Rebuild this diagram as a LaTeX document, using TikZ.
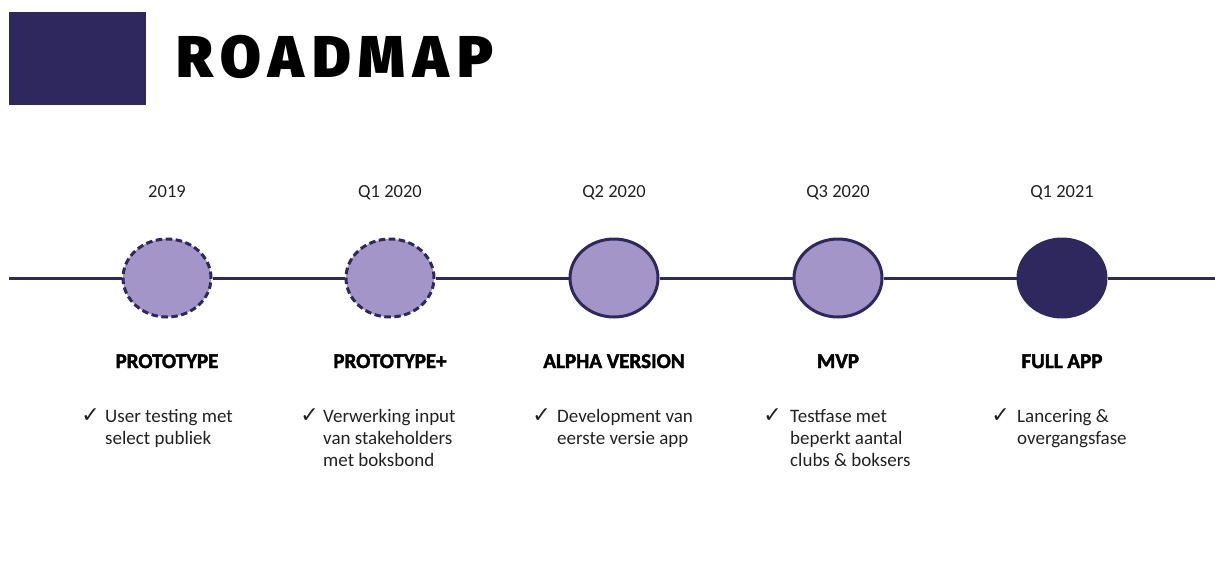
\documentclass[tikz,border=0pt]{standalone}
\usepackage{fontspec}
\usetikzlibrary{shapes.geometric}
\setmainfont{Carlito}
\newfontfamily\checkfont{DejaVu Sans}
\IfFontExistsTF{Fira Sans Black}{%
  \newfontfamily\titlefont{Fira Sans Black}[LetterSpace=14]%
}{%
  \newfontfamily\titlefont{Fira Sans}[UprightFont=* Bold,LetterSpace=14,FakeBold=4]%
}
\newfontfamily\headfont{Carlito}[UprightFont=* Bold,FakeBold=2]
\newfontfamily\checkbold{DejaVu Sans}[UprightFont=* Bold]
\definecolor{navy}{RGB}{46,40,94}
\definecolor{lilac}{RGB}{164,149,200}
\definecolor{txt}{RGB}{34,34,34}
\tikzset{
  milestone/.style={ellipse,minimum width=88pt,minimum height=78pt,inner sep=0pt,fill=lilac,draw=navy,line width=3pt},
  planned/.style={milestone,dash pattern=on 6.5pt off 3.5pt},
  done/.style={milestone},
  final/.style={milestone,fill=navy,draw=navy},
  yearlbl/.style={anchor=base,inner sep=0pt,font=\fontsize{18.5}{20}\selectfont,text=txt},
  headlbl/.style={anchor=base,inner sep=0pt,font=\headfont\fontsize{21}{24}\selectfont,text=black},
  bodylbl/.style={anchor=base west,inner sep=0pt,text=txt},
  checklbl/.style={anchor=base east,inner sep=0pt,font=\checkbold\fontsize{22}{22}\selectfont,text=txt},
  timeline/.style={draw=navy,line width=3pt}
}
\newcommand{\bodytext}[1]{\parbox[t]{170pt}{\raggedright\fontsize{19}{22}\selectfont #1}}
\begin{document}
\begin{tikzpicture}[x=1pt,y=-1pt]
\useasboundingbox[fill=white] (0,0) rectangle (1215,570);
% title
\node[fill=navy,minimum width=137pt,minimum height=93pt,inner sep=0pt,anchor=north west] (titlebox) at (9,12) {};
\node[anchor=base west,inner sep=0pt,font=\titlefont\fontsize{59}{60}\selectfont,text=black] (title) at (176,77) {ROADMAP};
% milestones
\node[planned] (c1) at (167,278) {};
\node[planned] (c2) at (390,278) {};
\node[done] (c3) at (614,278) {};
\node[done] (c4) at (838,278) {};
\node[final] (c5) at (1062,278) {};
\coordinate (start) at (9,278);
\coordinate (end) at (1215,278);
\draw[timeline] (start) -- (c1.west);
\draw[timeline] (c1.east) -- (c2.west);
\draw[timeline] (c2.east) -- (c3.west);
\draw[timeline] (c3.east) -- (c4.west);
\draw[timeline] (c4.east) -- (c5.west);
\draw[timeline] (c5.east) -- (end);
% years
\node[yearlbl] (y1) at (167,197) {2019};
\node[yearlbl] (y2) at (390,197) {Q1 2020};
\node[yearlbl] (y3) at (614,197) {Q2 2020};
\node[yearlbl] (y4) at (838,197) {Q3 2020};
\node[yearlbl] (y5) at (1062,197) {Q1 2021};
% headings
\node[headlbl] (h1) at (167,368) {PROTOTYPE};
\node[headlbl] (h2) at (390,368) {PROTOTYPE+};
\node[headlbl] (h3) at (614,368) {ALPHA VERSION};
\node[headlbl] (h4) at (838,368) {MVP};
\node[headlbl] (h5) at (1062,368) {FULL APP};
% bodies
\node[bodylbl] (b1) at (105,422) {\bodytext{User testing met\\select publiek}};
\node[bodylbl] (b2) at (323,422) {\bodytext{Verwerking input\\van stakeholders\\met boksbond}};
\node[bodylbl] (b3) at (557,422) {\bodytext{Development van\\eerste versie app}};
\node[bodylbl] (b4) at (790,422) {\bodytext{Testfase met\\beperkt aantal\\clubs \& boksers}};
\node[bodylbl] (b5) at (1017,422) {\bodytext{Lancering \&\\overgangsfase}};
\node[checklbl] (k1) at (100,422) {✓};
\node[checklbl] (k2) at (319,422) {✓};
\node[checklbl] (k3) at (551,422) {✓};
\node[checklbl] (k4) at (782,422) {✓};
\node[checklbl] (k5) at (1010,422) {✓};
\end{tikzpicture}
\end{document}
